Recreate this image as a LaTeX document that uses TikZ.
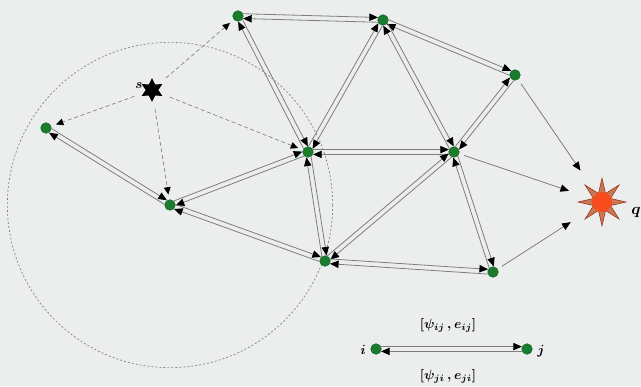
\documentclass[tikz,border=0pt]{standalone}
\usepackage{amsmath}
\usepackage{fontspec}
\setmainfont{Liberation Serif}
\usetikzlibrary{arrows.meta,calc,shapes.geometric}
\definecolor{bg}{RGB}{236,238,238}
\definecolor{nodegreen}{RGB}{25,125,45}
\definecolor{sunred}{RGB}{248,75,30}
\definecolor{sunray}{RGB}{200,120,85}
\definecolor{edgegray}{RGB}{125,125,125}
\tikzset{
  sensor/.style={circle,fill=nodegreen,draw=nodegreen!70!black,line width=0.3pt,minimum size=8pt,inner sep=0pt},
  arrtip/.style={-{Triangle[length=6.5pt,width=5.5pt,color=black]}},
  off/.style={to path={($(\tikztostart)!1.8pt!90:(\tikztotarget)$) -- ($(\tikztotarget)!1.8pt!-90:(\tikztostart)$)}},
  edge/.style={draw=edgegray,line width=0.6pt,arrtip,shorten >=3.8pt,shorten <=3.8pt},
  single/.style={draw=edgegray,line width=0.6pt,arrtip,shorten <=3.8pt,shorten >=18pt},
  dashedge/.style={draw=gray,dash pattern=on 3pt off 2pt,line width=0.5pt,-{Triangle[length=5.5pt,width=5pt,color=black]},shorten <=7pt,shorten >=3.8pt},
  lbl/.style={font=\normalsize,inner sep=1pt}
}
\begin{document}
\begin{tikzpicture}[x=0.75pt,y=-0.75pt]
\fill[bg] (0,0) rectangle (641,386);
\useasboundingbox (0,0) rectangle (641,386);
% range circle
\node[circle,draw=gray,dash pattern=on 1.5pt off 1.5pt,line width=0.5pt,minimum size=244pt,inner sep=0pt] (range) at (170,205) {};
% nodes
\node[sensor] (A) at (238,16) {};
\node[sensor] (B) at (383,20) {};
\node[sensor] (C) at (515,75) {};
\node[sensor] (D) at (46,128) {};
\node[sensor] (E) at (308,152) {};
\node[sensor] (F) at (454,152) {};
\node[sensor] (G) at (170,205) {};
\node[sensor] (H) at (325,261) {};
\node[sensor] (I) at (493,272) {};
\node[star,star points=6,star point ratio=1.9,fill=black,minimum size=18pt,inner sep=0pt] (src) at (152,90) {};
\node[lbl] (slabel) at (139,86) {$\boldsymbol{s}$};
\node[star,star points=8,star point ratio=2.6,fill=sunray,draw=sunred!60!black,line width=0.4pt,minimum size=36pt,inner sep=0pt] (q) at (602,202) {};
\node[circle,fill=sunred,minimum size=15pt,inner sep=0pt] (qcore) at (602,202) {};
\node[lbl,font=\large] (qlabel) at (636,212) {$\boldsymbol{q}$};
% double edges
\foreach \a/\b in {A/B,A/E,B/E,B/C,B/F,C/F,E/F,E/G,E/H,D/G,G/H,F/H,F/I,H/I}{
  \draw[edge] (\a) to[off] (\b);
  \draw[edge] (\b) to[off] (\a);
}
% single edges to q
\draw[single] (C) -- (q);
\draw[single] (F) -- (q);
\draw[single] (I) -- (q);
% dashed edges from s
\foreach \t in {A,D,G,E}{
  \draw[dashedge] (src) -- (\t);
}
% legend
\node[sensor] (i) at (376,349) {};
\node[sensor] (j) at (527,349) {};
\node[lbl] (ilabel) at (363,350) {$\boldsymbol{i}$};
\node[lbl] (jlabel) at (541,351) {$\boldsymbol{j}$};
\draw[edge] (i) to[off] (j);
\draw[edge] (j) to[off] (i);
\node[lbl] (top) at (448,325) {$\boldsymbol{[\psi_{ij}\,,e_{ij}]}$};
\node[lbl] (bot) at (448,376) {$\boldsymbol{[\psi_{ji}\,,e_{ji}]}$};
\end{tikzpicture}
\end{document}
